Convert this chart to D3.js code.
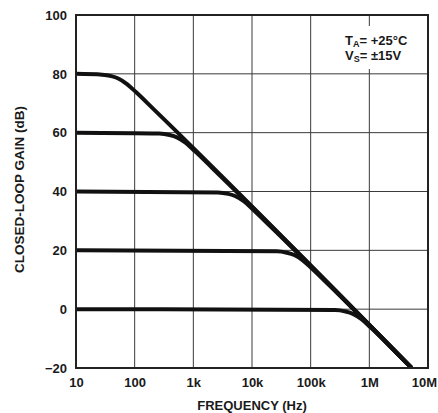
<!DOCTYPE html>
<html>
<head>
<meta charset="utf-8">
<script src="https://cdn.jsdelivr.net/npm/d3@7"></script>
<style>
  html, body { margin: 0; padding: 0; background: #fff; }
  svg { display: block; }
  text { font-family: "Liberation Sans", Arial, Helvetica, sans-serif; font-weight: bold; fill: #1a1a1a; }
</style>
</head>
<body>
<svg id="chart" width="438" height="413"></svg>
<script>
// ---- data (frequency in Hz, closed-loop gain in dB) ----
const xTickValues = [10, 100, 1e3, 1e4, 1e5, 1e6, 1e7];
const xTickLabels = ["10", "100", "1k", "10k", "100k", "1M", "10M"];
const yTickValues = [-20, 0, 20, 40, 60, 80, 100];
const yTickLabels = ["\u221220", "0", "20", "40", "60", "80", "100"];

const gain80 = [[10, 80], [28, 79.7], [40, 79.2], [52.5, 78.4], [73, 76.6], [105, 73.8], [210, 68], [5.25e6, -20]];
const gain60 = [[10, 60], [262, 59.7], [394, 59.2], [525, 58.4], [735, 56.6], [1050, 53.8], [2100, 48], [5.25e6, -20]];
const gain40 = [[10, 40], [2625, 39.7], [3940, 39.2], [5250, 38.4], [7350, 36.6], [10500, 33.8], [21000, 28], [5.25e6, -20]];
const gain20 = [[10, 20], [26250, 19.7], [39400, 19.2], [52500, 18.4], [73500, 16.6], [105000, 13.8], [210000, 8], [5.25e6, -20]];
const gain0  = [[10, 0], [262500, -0.3], [394000, -0.8], [525000, -1.6], [735000, -3.4], [1050000, -6.2], [2100000, -12], [5.25e6, -20]];
const seriesList = [gain80, gain60, gain40, gain20, gain0];

const xTitle = "FREQUENCY (Hz)";
const yTitle = "CLOSED-LOOP GAIN (dB)";

// ---- layout ----
const W = 438, H = 413;
const margin = { left: 76, top: 15, right: 10, bottom: 45 };
const x0 = margin.left, x1 = W - margin.right;
const y0 = margin.top, y1 = H - margin.bottom;

const svg = d3.select("#chart");
const x = d3.scaleLog().domain([10, 1e7]).range([x0, x1]);
const y = d3.scaleLinear().domain([-20, 100]).range([y1, y0]);

// grid
const grid = svg.append("g");
grid.selectAll("line.v").data(xTickValues).join("line")
  .attr("x1", d => x(d)).attr("x2", d => x(d))
  .attr("y1", y0).attr("y2", y1)
  .attr("stroke", "#3a3a3a").attr("stroke-width", 1);
grid.selectAll("line.h").data(yTickValues).join("line")
  .attr("x1", x0).attr("x2", x1)
  .attr("y1", d => y(d)).attr("y2", d => y(d))
  .attr("stroke", "#3a3a3a").attr("stroke-width", 1);

// annotation background (breaks grid)
svg.append("rect").attr("x", 340).attr("y", 26).attr("width", 72).attr("height", 43).attr("fill", "#fff");

// curves
svg.append("clipPath").attr("id", "plotclip").append("rect")
  .attr("x", x0).attr("y", y0).attr("width", x1 - x0).attr("height", y1 - y0);
const line = d3.line().x(d => x(d[0])).y(d => y(d[1])).curve(d3.curveMonotoneX);
svg.append("g").attr("clip-path", "url(#plotclip)")
  .selectAll("path").data(seriesList).join("path")
  .attr("d", line)
  .attr("fill", "none").attr("stroke", "#111").attr("stroke-width", 4)
  .attr("stroke-linejoin", "round");

// frame
svg.append("rect").attr("x", x0).attr("y", y0).attr("width", x1 - x0).attr("height", y1 - y0)
  .attr("fill", "none").attr("stroke", "#222").attr("stroke-width", 2);

// axes (labels only; grid serves as ticks)
const xAxis = d3.axisBottom(x).tickValues(xTickValues)
  .tickFormat((d, i) => xTickLabels[i]).tickSize(0).tickPadding(10);
const gx = svg.append("g").attr("transform", `translate(0,${y1})`).call(xAxis);
gx.select(".domain").remove();
gx.selectAll("text").attr("font-size", 13).attr("font-family", null).attr("fill", "#1a1a1a");
gx.selectAll(".tick").filter(d => d === 1e7).select("text").attr("dx", -4);

const yAxis = d3.axisLeft(y).tickValues(yTickValues)
  .tickFormat((d, i) => yTickLabels[i]).tickSize(0).tickPadding(9);
const gy = svg.append("g").attr("transform", `translate(${x0},0)`).call(yAxis);
gy.select(".domain").remove();
gy.selectAll("text").attr("font-size", 13).attr("font-family", null).attr("fill", "#1a1a1a");

// titles
svg.append("text").attr("x", (x0 + x1) / 2).attr("y", 410)
  .attr("text-anchor", "middle").attr("font-size", 13).text(xTitle);
svg.append("text").attr("transform", `translate(24,${(y0 + y1) / 2 - 2}) rotate(-90)`)
  .attr("text-anchor", "middle").attr("font-size", 13.5).text(yTitle);

// annotation
const t1 = svg.append("text").attr("x", 345).attr("y", 45).attr("font-size", 13);
t1.append("tspan").text("T");
t1.append("tspan").attr("font-size", 9).attr("dy", 2).text("A");
t1.append("tspan").attr("dy", -2).text("= +25\u00B0C");
const t2 = svg.append("text").attr("x", 345).attr("y", 60).attr("font-size", 13);
t2.append("tspan").text("V");
t2.append("tspan").attr("font-size", 9).attr("dy", 2).text("S");
t2.append("tspan").attr("dy", -2).text("= \u00B115V");
</script>
</body>
</html>
